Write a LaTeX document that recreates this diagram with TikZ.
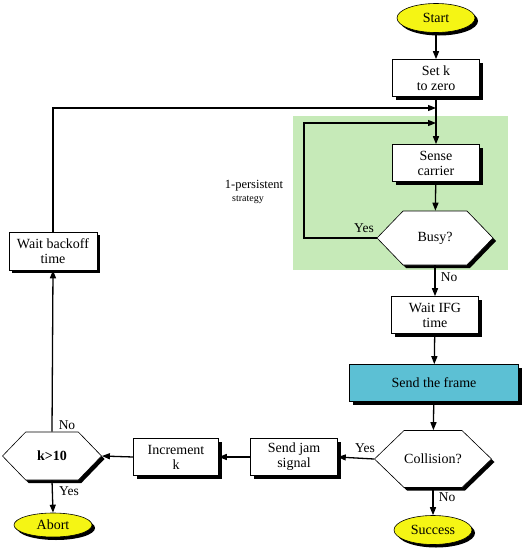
\documentclass[tikz,border=0pt]{standalone}
\usepackage{fontspec}
\setmainfont{Liberation Serif}
\usetikzlibrary{arrows.meta,shapes.geometric,shapes.symbols,shadows}
\definecolor{grn}{RGB}{198,234,184}
\definecolor{cyn}{RGB}{92,192,212}
\definecolor{ylw}{RGB}{245,245,20}
\tikzset{
  shd/.style={drop shadow={shadow xshift=3pt,shadow yshift=-3pt,fill=black,opacity=1}},
  box/.style={draw,fill=white,shd,minimum width=87pt,minimum height=37pt,inner sep=1pt,align=center,font=\fontsize{14}{15}\selectfont,line width=0.6pt},
  term/.style={ellipse,draw,fill=ylw,shd,minimum width=78pt,minimum height=29pt,inner sep=0pt,font=\fontsize{14}{15}\selectfont,line width=0.6pt},
  hexa/.style={signal,signal to=west and east,draw,fill=white,shd,inner sep=0pt,font=\fontsize{14}{15}\selectfont,line width=0.6pt},
  arr/.style={line width=1.3pt,-{Triangle[length=8pt,width=6pt]}},
  lbl/.style={font=\fontsize{13.5}{14}\selectfont,inner sep=1pt}
}
\begin{document}
\begin{tikzpicture}[x=1pt,y=-1pt]
\useasboundingbox (0,0) rectangle (526,554);
\fill[grn] (293,116) rectangle (508,270);
\node[term] (start) at (436,18) {Start};
\node[box] (setk) at (436,78) {Set k\\to zero};
\node[box] (sense) at (436,163) {Sense\\carrier};
\node[hexa,minimum width=116pt,minimum height=54pt,signal pointer angle=92] (busy) at (435,238) {Busy?};
\node[box] (wifg) at (435,315) {Wait IFG\\time};
\node[box,fill=cyn,minimum width=169pt] (frame) at (434,383) {Send the frame};
\node[hexa,minimum width=117pt,minimum height=57pt,signal pointer angle=88] (coll) at (433,459) {Collision?};
\node[term] (succ) at (433,530) {Success};
\node[box] (jam) at (294,457) {Send jam\\signal};
\node[box,minimum width=85pt] (inc) at (176,457) {Increment\\k};
\node[hexa,minimum width=99pt,minimum height=48pt,signal pointer angle=92,font=\bfseries\fontsize{14}{15}\selectfont] (k10) at (52,456) {k>10};
\node[term,minimum width=78pt,minimum height=24pt] (abort) at (53,525) {Abort};
\node[box,minimum width=88pt,minimum height=38pt] (back) at (53,251) {Wait backoff\\time};
\coordinate (j1) at (436,108);
\coordinate (j2) at (436,123);
\coordinate (lc) at (304,238);
\node[lbl,font=\fontsize{12.5}{13}\selectfont] (p1) at (254,186) {1-persistent};
\node[lbl,font=\fontsize{10}{11}\selectfont] (p2) at (248,200) {strategy};
\draw[arr] (start) -- (setk);
\draw[arr] (setk) -- (sense);
\draw[arr] (back.north) |- (j1);
\draw[arr] (busy.west) -- (lc) |- (j2);
\node[lbl] (yes1) at (364,228) {Yes};
\draw[arr] (sense) -- (busy);
\draw[arr] (busy.south) -- (wifg.north);
\node[lbl] (no1) at (449,277) {No};
\draw[arr] (wifg) -- (frame);
\draw[arr] (frame) -- (coll);
\draw[arr] (coll.south) -- (succ.north);
\node[lbl] (no2) at (447,497) {No};
\draw[arr] (coll.west) -- (jam.east);
\node[lbl] (yes2) at (365,448) {Yes};
\draw[arr] (jam.west) -- (inc.east);
\draw[arr] (inc.west) -- (k10.east);
\draw[arr] (k10.south) -- (abort.north);
\node[lbl] (yes3) at (69,491) {Yes};
\draw[arr] (k10.north) -- (back.south);
\node[lbl] (no3) at (67,425) {No};
\end{tikzpicture}
\end{document}
